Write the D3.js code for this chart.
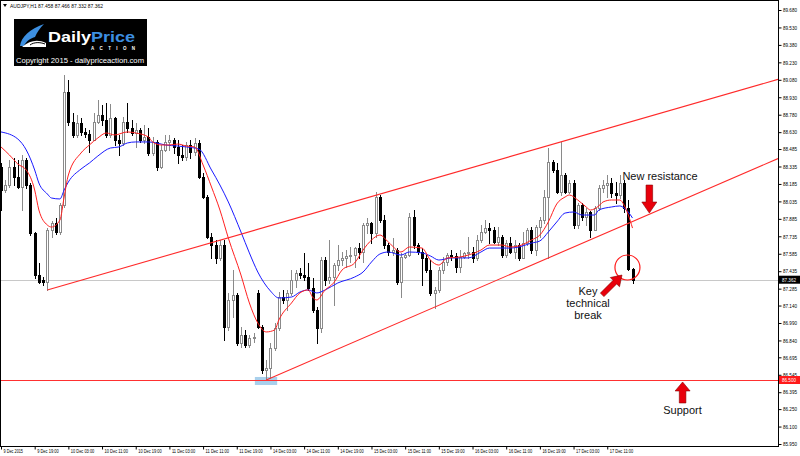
<!DOCTYPE html>
<html><head><meta charset="utf-8">
<script src="https://cdn.jsdelivr.net/npm/d3@7/dist/d3.min.js"></script>
<style>
html,body{margin:0;padding:0;background:#fff;}
svg{display:block;font-family:"Liberation Sans",Arial,sans-serif;}
</style></head><body>
<svg id="c" width="800" height="456"></svg>
<script>
const symbolTitle = "AUDJPY,H1 87.458 87.466 87.332 87.362";

const open = [88.331,88.133,88.176,88.331,88.245,88.159,88.391,88.176,87.763,87.402,
87.359,87.342,87.789,87.849,87.772,88.004,88.975,88.717,88.606,88.709,
88.632,88.614,88.563,88.717,88.778,88.735,88.606,88.752,88.563,88.537,
88.717,88.666,88.623,88.649,88.563,88.589,88.451,88.546,88.331,88.477,
88.546,88.563,88.503,88.434,88.417,88.520,88.460,88.537,88.245,88.073,
87.729,87.660,87.549,87.660,86.956,87.188,87.231,86.818,86.887,86.801,
86.861,87.248,86.956,86.586,86.603,86.775,86.947,87.213,87.188,87.248,
87.359,87.420,87.402,87.385,87.291,87.102,86.947,87.531,87.359,87.385,
87.488,87.531,87.549,87.566,87.574,87.634,87.600,87.832,87.849,87.763,
88.073,87.875,87.660,87.600,87.617,87.342,87.557,87.574,87.901,87.660,
87.600,87.549,87.445,87.248,87.274,87.445,87.514,87.574,87.566,87.471,
87.557,87.592,87.600,87.549,87.703,87.772,87.806,87.789,87.686,87.729,
87.574,87.677,87.600,87.660,87.549,87.677,87.789,87.617,87.815,87.875,
88.073,88.374,88.305,88.116,88.262,88.116,88.193,87.832,88.004,87.901,
87.944,87.789,87.978,88.150,88.176,88.193,88.107,88.090,88.193,87.978,
87.458];
const high = [88.365,88.219,88.391,88.408,88.391,88.434,88.408,88.193,87.772,87.506,
87.385,87.806,87.867,87.892,88.021,89.121,89.078,88.795,88.778,88.752,
88.666,88.649,88.795,88.907,88.864,88.881,88.872,88.760,88.606,88.760,
88.881,88.735,88.709,88.666,88.692,88.666,88.589,88.563,88.520,88.606,
88.606,88.580,88.563,88.520,88.546,88.563,88.580,88.563,88.279,88.090,
87.763,87.703,87.703,87.703,87.248,87.445,87.248,86.956,86.930,86.887,
86.904,87.274,86.973,86.672,86.818,86.990,87.256,87.274,87.274,87.445,
87.445,87.463,87.592,87.506,87.377,87.127,87.557,87.557,87.703,87.506,
87.660,87.600,87.617,87.643,87.643,87.677,87.849,87.892,87.858,88.116,
88.090,87.918,87.677,87.720,87.634,87.592,87.592,87.935,87.961,87.677,
87.634,87.574,87.531,87.299,87.471,87.557,87.592,87.617,87.592,87.617,
87.600,87.729,87.643,87.746,87.832,87.875,87.849,87.815,87.815,87.746,
87.703,87.729,87.703,87.677,87.772,87.806,87.815,87.832,87.901,88.133,
88.494,88.391,88.365,88.546,88.279,88.219,88.219,88.021,88.021,87.978,
87.953,87.996,88.176,88.219,88.262,88.236,88.202,88.262,88.219,88.047,
87.466];
const low = [87.961,88.116,88.159,88.176,88.150,87.961,88.150,87.746,87.377,87.334,
87.316,87.274,87.729,87.755,87.755,87.987,88.692,88.589,88.589,88.606,
88.589,88.460,88.563,88.709,88.692,88.589,88.589,88.520,88.434,88.520,
88.632,88.606,88.503,88.546,88.537,88.434,88.434,88.305,88.322,88.468,
88.477,88.451,88.365,88.391,88.391,88.408,88.434,88.236,88.064,87.720,
87.549,87.506,87.531,86.844,86.930,87.041,86.801,86.784,86.784,86.784,
86.827,86.947,86.560,86.500,86.517,86.758,86.930,87.162,87.102,87.231,
87.299,87.377,87.359,87.274,87.084,86.818,86.913,87.316,87.334,87.145,
87.445,87.488,87.471,87.514,87.471,87.549,87.514,87.763,87.677,87.729,
87.858,87.634,87.574,87.574,87.325,87.213,87.549,87.566,87.634,87.583,
87.316,87.428,87.231,87.119,87.256,87.420,87.488,87.531,87.428,87.428,
87.549,87.549,87.514,87.531,87.686,87.763,87.677,87.677,87.660,87.557,
87.557,87.592,87.549,87.531,87.549,87.660,87.592,87.574,87.729,87.849,
87.549,88.288,88.107,88.090,88.107,88.107,87.806,87.806,87.875,87.832,
87.729,87.789,87.961,88.116,88.073,88.073,88.021,88.064,87.944,87.445,
87.332];
const close = [88.133,88.176,88.331,88.245,88.159,88.391,88.176,87.763,87.402,87.342,
87.342,87.789,87.849,87.772,88.004,88.975,88.717,88.606,88.709,88.632,
88.614,88.563,88.717,88.778,88.735,88.606,88.752,88.563,88.537,88.717,
88.666,88.623,88.649,88.563,88.589,88.451,88.546,88.331,88.477,88.546,
88.563,88.503,88.434,88.417,88.520,88.460,88.537,88.245,88.073,87.729,
87.660,87.549,87.660,86.956,87.188,87.231,86.818,86.887,86.801,86.861,
86.870,86.956,86.586,86.603,86.775,86.947,87.213,87.188,87.248,87.359,
87.420,87.402,87.385,87.291,87.102,86.947,87.531,87.359,87.385,87.488,
87.531,87.549,87.566,87.574,87.634,87.600,87.832,87.849,87.763,88.073,
87.875,87.660,87.600,87.617,87.342,87.557,87.574,87.901,87.660,87.600,
87.549,87.445,87.248,87.274,87.445,87.514,87.574,87.566,87.471,87.557,
87.592,87.600,87.549,87.703,87.772,87.806,87.789,87.686,87.729,87.574,
87.677,87.600,87.660,87.549,87.677,87.789,87.617,87.815,87.875,88.073,
88.374,88.305,88.116,88.262,88.116,88.193,87.832,88.004,87.901,87.944,
87.789,87.978,88.150,88.176,88.193,88.107,88.090,88.193,87.978,87.458,
87.362];

// moving averages: [bar index, price]
const maFast = [[0,88.503],[2,88.434],[4,88.356],[6,88.305],[8,88.133],[9,87.961],[11,87.832],[12,87.815],[14,87.875],[15,88.073],[16,88.262],[19,88.451],[21,88.520],[23,88.580],[25,88.623],[27,88.606],[30,88.632],[32,88.623],[35,88.589],[36,88.546],[38,88.520],[40,88.520],[42,88.528],[44,88.511],[46,88.503],[48,88.348],[50,88.159],[52,87.961],[54,87.720],[57,87.402],[59,87.162],[61,86.990],[63,86.913],[65,86.930],[66,87.016],[69,87.162],[71,87.248],[73,87.274],[74,87.213],[75,87.188],[77,87.274],[79,87.334],[81,87.445],[84,87.506],[86,87.617],[88,87.703],[90,87.746],[92,87.686],[95,87.600],[97,87.643],[100,87.634],[102,87.531],[104,87.488],[106,87.549],[109,87.557],[111,87.574],[114,87.617],[116,87.660],[119,87.660],[121,87.643],[123,87.652],[126,87.703],[128,87.746],[130,87.858],[132,88.013],[134,88.073],[135,88.090],[137,88.047],[139,87.987],[140,87.961],[142,87.996],[143,88.030],[145,88.047],[147,88.047],[148,88.004],[149,87.918],[150,87.806]];
const maSlow = [[0,88.632],[4,88.571],[6,88.477],[8,88.305],[9,88.193],[11,88.099],[12,88.064],[14,88.056],[15,88.133],[16,88.202],[19,88.313],[21,88.365],[23,88.425],[26,88.494],[28,88.503],[30,88.537],[32,88.546],[35,88.546],[37,88.537],[39,88.520],[42,88.511],[44,88.503],[47,88.485],[50,88.305],[52,88.176],[54,88.030],[57,87.772],[59,87.592],[61,87.428],[64,87.265],[66,87.205],[69,87.213],[71,87.256],[73,87.274],[75,87.248],[77,87.274],[80,87.334],[84,87.385],[86,87.428],[88,87.514],[90,87.583],[92,87.600],[95,87.574],[97,87.600],[100,87.592],[102,87.566],[104,87.531],[107,87.549],[109,87.549],[111,87.549],[114,87.600],[116,87.634],[119,87.634],[121,87.634],[123,87.643],[126,87.677],[128,87.695],[130,87.772],[132,87.858],[134,87.935],[136,87.944],[138,87.918],[141,87.918],[142,87.961],[145,87.987],[147,87.996],[148,87.978],[149,87.944],[150,87.892]];

const timeTickBars = [0,8,16,24,32,40,48,56,64,72,80,88,96,104,112,120,128,136,144];
const timeLabels = ["9 Dec 2015","9 Dec 19:00","10 Dec 03:00","10 Dec 11:00","10 Dec 19:00","11 Dec 03:00","11 Dec 11:00","11 Dec 19:00","14 Dec 03:00","14 Dec 11:00","14 Dec 19:00","15 Dec 03:00","15 Dec 11:00","15 Dec 19:00","16 Dec 03:00","16 Dec 11:00","16 Dec 19:00","17 Dec 03:00","17 Dec 11:00"];
const priceTicks = [89.680,89.530,89.380,89.230,89.080,88.930,88.780,88.630,88.485,88.335,88.185,88.035,87.885,87.735,87.585,87.435,87.285,87.140,86.990,86.840,86.695,86.545,86.395,86.250,86.100,85.950];

const currentPrice = 87.362;
const supportLevel = 86.500;
const upperChannel = [[11,87.274],[133,88.546]];
const lowerChannel = [[63,86.500],[130,87.549]];

// ---------- drawing ----------
const svg = d3.select("#c");
const L = 1, R = 778, T = 1, B = 446;
const x = d3.scaleLinear().domain([0,150]).range([1,632.5]);
const y = d3.scaleLinear().domain([85.95,89.68]).range([444,10]);
const f3 = d3.format(".3f");

svg.append("defs").append("clipPath").attr("id","clip")
  .append("rect").attr("x",L).attr("y",T).attr("width",R-L).attr("height",B-T);

const plot = svg.append("g").attr("clip-path","url(#clip)");

// highlight box at the low
plot.append("rect")
  .attr("x",x(60.3)).attr("y",y(86.526))
  .attr("width",x(65.6)-x(60.3)).attr("height",y(86.457)-y(86.526))
  .attr("fill","#a9d0ec");

// current price line
plot.append("line").attr("x1",L).attr("x2",R)
  .attr("y1",Math.round(y(currentPrice))+0.5).attr("y2",Math.round(y(currentPrice))+0.5)
  .attr("stroke","#c8c8c8").attr("stroke-width",1);

// candles
const bars = d3.range(open.length).map(i=>({i,o:open[i],h:high[i],l:low[i],c:close[i]}));
const cg = plot.append("g");
const cs = cg.selectAll("g").data(bars).join("g");
cs.each(function(b){
  const g = d3.select(this);
  const cx = Math.round(x(b.i));
  const up = b.c >= b.o;
  const col = up ? "#8a8a8a" : "#000";
  g.append("line").attr("x1",cx+0.5).attr("x2",cx+0.5)
    .attr("y1",Math.round(y(b.h))).attr("y2",Math.round(y(b.l))+1)
    .attr("stroke",col).attr("stroke-width",1);
  const yt = Math.round(y(Math.max(b.o,b.c))), yb = Math.round(y(Math.min(b.o,b.c)));
  if(up){
    g.append("rect").attr("x",cx-0.5).attr("y",yt+0.5)
      .attr("width",2).attr("height",Math.max(1,yb-yt))
      .attr("fill","#fff").attr("stroke",col).attr("stroke-width",1);
  } else {
    g.append("rect").attr("x",cx-1).attr("y",yt)
      .attr("width",3).attr("height",Math.max(1,yb-yt+1))
      .attr("fill","#000");
  }
});

// moving averages
const line = d3.line().x(d=>x(d[0])).y(d=>y(d[1])).curve(d3.curveMonotoneX);
plot.append("path").datum(maSlow).attr("d",line).attr("fill","none")
  .attr("stroke","#1a1aff").attr("stroke-width",1);
plot.append("path").datum(maFast).attr("d",line).attr("fill","none")
  .attr("stroke","#ff2020").attr("stroke-width",1);

// channel lines (ray from first anchor through second, extended to the right edge)
function ray(p){
  const x1=x(p[0][0]), y1=y(p[0][1]), x2=x(p[1][0]), y2=y(p[1][1]);
  const k=(y2-y1)/(x2-x1);
  return [x1,y1,R,y1+k*(R-x1)];
}
[upperChannel,lowerChannel].forEach(p=>{
  const r = ray(p);
  plot.append("line").attr("x1",r[0]).attr("y1",r[1]).attr("x2",r[2]).attr("y2",r[3])
    .attr("stroke","#ff2a2a").attr("stroke-width",1.1);
});

// support line
plot.append("line").attr("x1",L).attr("x2",R)
  .attr("y1",Math.round(y(supportLevel))+0.5).attr("y2",Math.round(y(supportLevel))+0.5)
  .attr("stroke","#ff3030").attr("stroke-width",1);

// circle around the break
plot.append("circle").attr("cx",x(148.8)).attr("cy",y(87.467)).attr("r",12.5)
  .attr("fill","none").attr("stroke","#ff1a1a").attr("stroke-width",1.2);

// arrows
function arrow(tx,ty,len,hl,hw,sw,rot){
  const pts=[[0,0],[hw,hl],[sw,hl],[sw,len],[-sw,len],[-sw,hl],[-hw,hl]];
  svg.append("polygon").attr("points",pts.map(p=>p.join(",")).join(" "))
    .attr("transform",`translate(${tx},${ty}) rotate(${rot})`)
    .attr("fill","#e8000b").attr("stroke","#8a0000").attr("stroke-width",0.6);
}
arrow(x(154.0), y(87.935), 28, 11, 7.5, 3.3, 180);   // new resistance (down)
arrow(x(161.9), y(86.483), 21, 9, 7.5, 3.3, 0);      // support (up)
arrow(x(147.5), y(87.402), 28, 10, 6.5, 2.5, 45);    // key break

// annotation texts
const ann = svg.append("g").attr("font-size","11px").attr("fill","#111");
ann.append("text").attr("x",x(147.6)).attr("y",180).text("New resistance");
const kt = ann.append("text").attr("text-anchor","middle");
[["Key",295],["technical",307],["break",318.5]].forEach(d=>{
  kt.append("tspan").attr("x",588).attr("y",d[1]).text(d[0]);
});
ann.append("text").attr("x",682.5).attr("y",414).attr("text-anchor","middle").text("Support");

// frame
svg.append("rect").attr("x",0.5).attr("y",0.5).attr("width",R).attr("height",B)
  .attr("fill","none").attr("stroke","#000").attr("stroke-width",1);

// right price axis
const ay = svg.append("g").attr("transform",`translate(${R+0.5},0)`)
  .call(d3.axisRight(y).tickValues(priceTicks).tickFormat(f3).tickSize(3).tickSizeOuter(0).tickPadding(1.5));
ay.select(".domain").remove();
ay.selectAll("line").attr("stroke","#000");
ay.selectAll("text").attr("font-size","5.5px").attr("fill","#000")
  .attr("font-family","'Liberation Sans',Arial,sans-serif")
  .attr("textLength",14).attr("lengthAdjust","spacingAndGlyphs");

// price boxes on axis
function priceBox(v,bg){
  const yy=y(v);
  svg.append("rect").attr("x",R+1).attr("y",yy-4).attr("width",800-R-1).attr("height",8).attr("fill",bg);
  svg.append("text").attr("x",R+4).attr("y",yy+2).attr("font-size","5.5px").attr("fill","#fff")
    .attr("textLength",14).attr("lengthAdjust","spacingAndGlyphs").text(f3(v));
}
priceBox(currentPrice,"#000");
priceBox(supportLevel,"#ff1a1a");

// bottom time axis
const ax = svg.append("g").attr("transform",`translate(0,${B+0.5})`)
  .call(d3.axisBottom(x).tickValues(timeTickBars).tickFormat((d,i)=>timeLabels[i]).tickSize(3).tickSizeOuter(0));
ax.select(".domain").remove();
ax.selectAll("line").attr("stroke","#000");
ax.selectAll("text").attr("font-size","5.5px").attr("fill","#000")
  .attr("text-anchor","start").attr("dx","2").attr("dy","0").attr("y",6)
  .attr("font-family","'Liberation Sans',Arial,sans-serif")
  .each(function(){ const t=this.textContent; d3.select(this).attr("textLength",t.length*1.95).attr("lengthAdjust","spacingAndGlyphs"); });

// header
svg.append("polygon").attr("points","3,4 7,4 5,7").attr("fill","#000");
svg.append("text").attr("x",10).attr("y",8).attr("font-size","5.5px").attr("fill","#000")
  .attr("textLength",93).attr("lengthAdjust","spacingAndGlyphs").text(symbolTitle);

// logo
const lg = svg.append("g");
lg.append("rect").attr("x",14).attr("y",19).attr("width",133).attr("height",47).attr("fill","#000");
lg.append("path").attr("d","M20,46 C21,37 30,29 44,24 C40,28 37,32 35,37 C31,38 26,41 24,46 Z").attr("fill","#3d8fe0");
lg.append("path").attr("d","M22,47 C30,40 38,39 46,43 L46,47 Z").attr("fill","#fff");
lg.append("path").attr("d","M30,45 C34,42 40,42 45,44").attr("fill","none").attr("stroke","#000").attr("stroke-width",1);
const brand = lg.append("text").attr("x",48).attr("y",42).attr("font-size","15px").attr("font-weight","bold")
  .attr("textLength",87).attr("lengthAdjust","spacingAndGlyphs");
brand.append("tspan").attr("fill","#fff").text("Daily");
brand.append("tspan").attr("fill","#3d8fe0").text("Price");
lg.append("text").attr("x",91).attr("y",49.5).attr("font-size","4.5px").attr("font-weight","bold").attr("fill","#fff")
  .attr("textLength",44).attr("lengthAdjust","spacing").text("ACTION");
lg.append("text").attr("x",16).attr("y",62.5).attr("font-size","8px").attr("fill","#fff")
  .attr("textLength",128).attr("lengthAdjust","spacingAndGlyphs").text("Copyright 2015 - dailypriceaction.com");
</script>
</body></html>
